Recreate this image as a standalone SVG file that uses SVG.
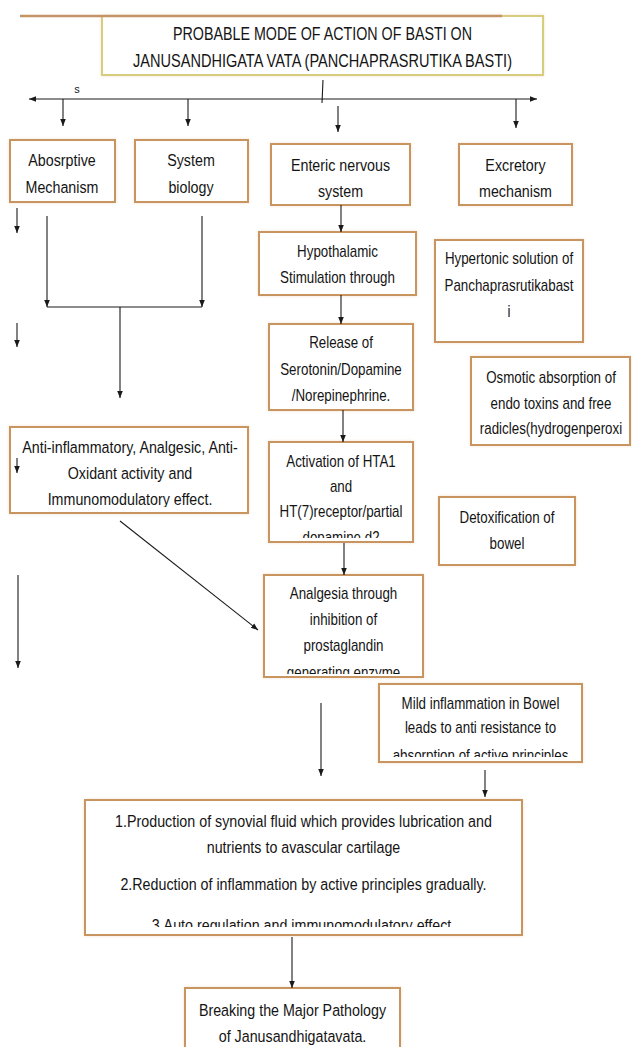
<svg xmlns="http://www.w3.org/2000/svg" width="632" height="1047" viewBox="0 0 632 1047">
<style>
.box{fill:#fff;stroke:#c8945f;stroke-width:2;filter:url(#glow)}
.tbox{fill:#fff;stroke:#d8cd7c;stroke-width:2;filter:url(#glow)}
.t16{font-family:"Liberation Sans",Arial,sans-serif;font-size:17px;fill:#141414;text-anchor:middle}
.t15{font-family:"Liberation Sans",Arial,sans-serif;font-size:16px;fill:#141414;text-anchor:middle}
.tt{font-family:"Liberation Sans",Arial,sans-serif;font-size:18px;fill:#141414}
.c{stroke:#1a1a1a;stroke-width:1.1;fill:none}
.a{marker-end:url(#ah)}
</style>
<defs>
<marker id="ah" viewBox="0 0 10 10" refX="10" refY="5" markerWidth="7" markerHeight="7" markerUnits="userSpaceOnUse" orient="auto-start-reverse">
<path d="M0,1 L10,5 L0,9 z" fill="#1a1a1a"/>
</marker>
<filter id="glow" x="-10%" y="-10%" width="120%" height="120%">
<feGaussianBlur in="SourceAlpha" stdDeviation="1.5" result="b"/>
<feFlood flood-color="#efd6bc" flood-opacity="0.7"/>
<feComposite in2="b" operator="in"/>
<feMerge><feMergeNode/><feMergeNode in="SourceGraphic"/></feMerge>
</filter>
<clipPath id="c-sys"><rect x="136" y="141" width="111" height="55"/></clipPath>
<clipPath id="c-ent"><rect x="272" y="145" width="137" height="55"/></clipPath>
<clipPath id="c-act"><rect x="270" y="443" width="142" height="95"/></clipPath>
<clipPath id="c-ana"><rect x="265" y="576" width="157" height="98"/></clipPath>
<clipPath id="c-anti"><rect x="11" y="428" width="236" height="79"/></clipPath>
<clipPath id="c-mild"><rect x="380" y="685" width="201" height="72"/></clipPath>
<clipPath id="c-prod"><rect x="86" y="801" width="435" height="126"/></clipPath>
</defs>
<rect width="632" height="1047" fill="#fff"/>

<g id="title">
<rect class="tbox" x="102" y="16" width="441" height="59"/>
<line x1="20" y1="16" x2="502" y2="16" stroke="#c49366" stroke-width="2.5"/>
<text class="tt" x="173" y="40" textLength="299" lengthAdjust="spacingAndGlyphs">PROBABLE MODE OF ACTION OF BASTI ON</text>
<text class="tt" x="133" y="67" textLength="379" lengthAdjust="spacingAndGlyphs">JANUSANDHIGATA VATA (PANCHAPRASRUTIKA BASTI)</text>
</g>

<g id="label-s">
<text x="77" y="93" font-family="Liberation Sans, Arial, sans-serif" font-size="11" fill="#1a1a1a" text-anchor="middle">s</text>
</g>

<g id="absorptive">
<rect class="box" x="10" y="140" width="105" height="62"/>
<text class="t16" transform="matrix(0.84 0 0 1 62 0)"><tspan x="0" y="166">Abosrptive</tspan><tspan x="0" y="193">Mechanism</tspan></text>
</g>

<g id="system-biology">
<rect class="box" x="135" y="140" width="113" height="62"/>
<g clip-path="url(#c-sys)">
<text class="t16" transform="matrix(0.84 0 0 1 191 0)"><tspan x="0" y="166">System</tspan><tspan x="0" y="193">biology</tspan></text>
</g>
</g>

<g id="enteric">
<rect class="box" x="271" y="144" width="139" height="61"/>
<g clip-path="url(#c-ent)">
<text class="t16" transform="matrix(0.84 0 0 1 340.5 0)"><tspan x="0" y="171">Enteric nervous</tspan><tspan x="0" y="197">system</tspan></text>
</g>
</g>

<g id="excretory">
<rect class="box" x="459" y="144" width="113" height="61"/>
<text class="t16" transform="matrix(0.84 0 0 1 515.5 0)"><tspan x="0" y="171">Excretory</tspan><tspan x="0" y="197">mechanism</tspan></text>
</g>

<g id="hypothalamic">
<rect class="box" x="259" y="232" width="157" height="63"/>
<text class="t15" transform="matrix(0.834 0 0 1 337.5 0)"><tspan x="0" y="257">Hypothalamic</tspan><tspan x="0" y="283">Stimulation through</tspan></text>
</g>

<g id="hypertonic">
<rect class="box" x="435" y="240" width="148" height="102"/>
<text class="t15" transform="matrix(0.834 0 0 1 509 0)"><tspan x="0" y="264">Hypertonic solution of</tspan><tspan x="0" y="291">Panchaprasrutikabast</tspan><tspan x="0" y="317">i</tspan></text>
</g>

<g id="release">
<rect class="box" x="269" y="324" width="144" height="86"/>
<text class="t15" transform="matrix(0.834 0 0 1 341 0)"><tspan x="0" y="348">Release of</tspan><tspan x="0" y="375">Serotonin/Dopamine</tspan><tspan x="0" y="401">/Norepinephrine.</tspan></text>
</g>

<g id="osmotic">
<rect class="box" x="471" y="357" width="159" height="88"/>
<text class="t15" transform="matrix(0.834 0 0 1 551 0)"><tspan x="0" y="383">Osmotic absorption of</tspan><tspan x="0" y="409">endo toxins and free</tspan><tspan x="0" y="434">radicles(hydrogenperoxi</tspan></text>
</g>

<g id="anti-inflammatory">
<rect class="box" x="10" y="427" width="238" height="86"/>
<g clip-path="url(#c-anti)">
<text class="t16" transform="matrix(0.84 0 0 1 130 0)"><tspan x="0" y="453">Anti-inflammatory, Analgesic, Anti-</tspan><tspan x="0" y="479">Oxidant activity and</tspan><tspan x="0" y="505">Immunomodulatory effect.</tspan></text>
</g>
</g>

<g id="activation">
<rect class="box" x="269" y="442" width="144" height="100"/>
<g clip-path="url(#c-act)">
<text class="t15" transform="matrix(0.834 0 0 1 341 0)"><tspan x="0" y="467">Activation of HTA1</tspan><tspan x="0" y="492">and</tspan><tspan x="0" y="517">HT(7)receptor/partial</tspan><tspan x="0" y="543">dopamine d2</tspan></text>
</g>
</g>

<g id="detoxification">
<rect class="box" x="439" y="497" width="136" height="68"/>
<text class="t15" transform="matrix(0.834 0 0 1 507 0)"><tspan x="0" y="523">Detoxification of</tspan><tspan x="0" y="549">bowel</tspan></text>
</g>

<g id="analgesia">
<rect class="box" x="264" y="575" width="159" height="102"/>
<g clip-path="url(#c-ana)">
<text class="t15" transform="matrix(0.834 0 0 1 343.5 0)"><tspan x="0" y="599">Analgesia through</tspan><tspan x="0" y="625">inhibition of</tspan><tspan x="0" y="651">prostaglandin</tspan><tspan x="0" y="678">generating enzyme</tspan></text>
</g>
</g>

<g id="mild-inflammation">
<rect class="box" x="379" y="684" width="203" height="78"/>
<g clip-path="url(#c-mild)">
<text class="t15" transform="matrix(0.834 0 0 1 480.5 0)"><tspan x="0" y="709">Mild inflammation in Bowel</tspan><tspan x="0" y="733">leads to anti resistance to</tspan><tspan x="0" y="761">absorption of active principles</tspan></text>
</g>
</g>

<g id="production">
<rect class="box" x="85" y="800" width="437" height="135"/>
<g clip-path="url(#c-prod)">
<text class="t16" transform="matrix(0.84 0 0 1 303.5 0)"><tspan x="0" y="827">1.Production of synovial fluid which provides lubrication and</tspan><tspan x="0" y="853">nutrients to avascular cartilage</tspan><tspan x="0" y="890">2.Reduction of inflammation by active principles gradually.</tspan><tspan x="0" y="931">3.Auto regulation and immunomodulatory effect.</tspan></text>
</g>
</g>

<g id="breaking">
<rect class="box" x="185" y="988" width="215" height="75"/>
<text class="t16" transform="matrix(0.84 0 0 1 292.5 0)"><tspan x="0" y="1016">Breaking the Major Pathology</tspan><tspan x="0" y="1042">of Janusandhigatavata.</tspan></text>
</g>

<g id="connectors">
<line class="c" x1="323" y1="80" x2="322" y2="103"/>
<line class="c" x1="29" y1="99" x2="537" y2="99" marker-start="url(#ah)" marker-end="url(#ah)"/>
<line class="c a" x1="63" y1="99" x2="63" y2="126"/>
<line class="c a" x1="188" y1="99" x2="188" y2="126"/>
<line class="c a" x1="338" y1="106" x2="338" y2="132"/>
<line class="c a" x1="516" y1="99" x2="516" y2="128"/>
<line class="c a" x1="17" y1="208" x2="17" y2="233"/>
<line class="c a" x1="17" y1="323" x2="17" y2="347"/>
<line class="c a" x1="17" y1="458" x2="17" y2="473"/>
<line class="c a" x1="18" y1="575" x2="18" y2="668"/>
<line class="c a" x1="47" y1="216" x2="47" y2="307"/>
<line class="c a" x1="202" y1="216" x2="202" y2="307"/>
<line class="c" x1="47" y1="307" x2="202" y2="307"/>
<line class="c a" x1="120" y1="307" x2="120" y2="398"/>
<line class="c a" x1="341" y1="205" x2="341" y2="232"/>
<line class="c a" x1="341" y1="295" x2="341" y2="324"/>
<line class="c a" x1="343" y1="410" x2="343" y2="442"/>
<line class="c a" x1="344" y1="543" x2="344" y2="575"/>
<line class="c a" x1="120" y1="521" x2="258" y2="630"/>
<line class="c a" x1="321" y1="703" x2="321" y2="776"/>
<line class="c a" x1="485" y1="770" x2="485" y2="797"/>
<line class="c a" x1="292" y1="937" x2="292" y2="988"/>
</g>
</svg>
